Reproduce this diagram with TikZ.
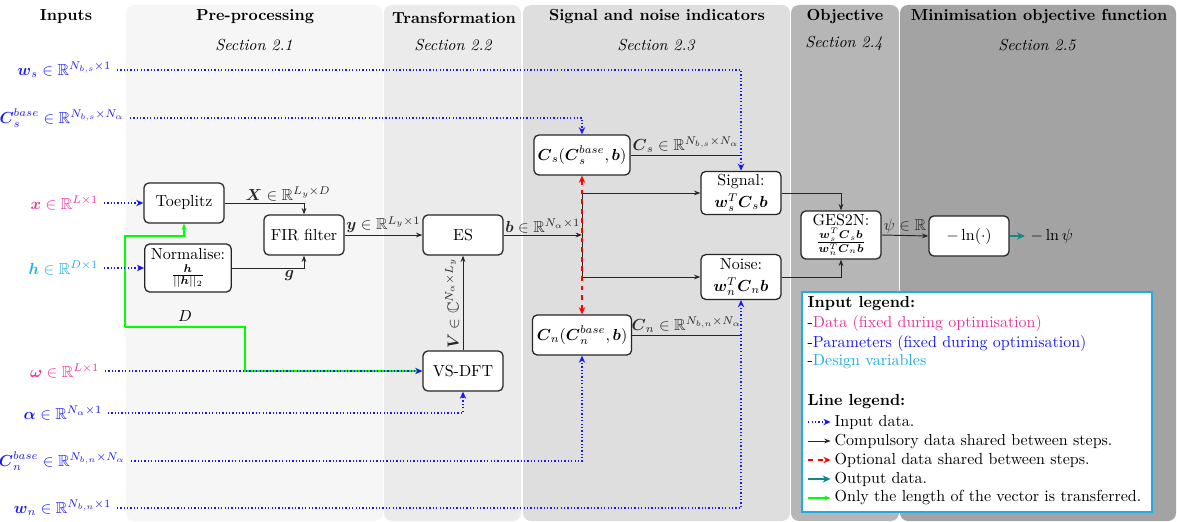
\documentclass[tikz,border=0pt]{standalone}
\usepackage{amsmath,amssymb}
\usetikzlibrary{arrows.meta}

\definecolor{datacol}{RGB}{232,52,152}
\definecolor{parcol}{RGB}{25,25,245}
\definecolor{designcol}{RGB}{30,172,230}
\definecolor{outcol}{RGB}{20,135,135}
\definecolor{lencol}{RGB}{0,255,0}
\definecolor{panelA}{RGB}{246,246,246}
\definecolor{panelB}{RGB}{235,235,235}
\definecolor{panelC}{RGB}{222,222,222}
\definecolor{panelD}{RGB}{182,182,182}
\definecolor{panelE}{RGB}{163,163,163}

\tikzset{
  procbox/.style={draw=black!85, thick, fill=white, rounded corners=3pt, align=center,
    minimum width=50pt, minimum height=25pt, inner sep=2pt},
  paneltitle/.style={font=\bfseries},
  sectitle/.style={font=\itshape},
  inputline/.style={parcol, line width=0.8pt, dash pattern=on 0.8pt off 1.3pt,
    -{Stealth[length=4.5pt,width=4pt]}},
  plainline/.style={black!85, semithick},
  compline/.style={black!85, semithick, -{Stealth[length=4pt,width=3pt]}},
  optline/.style={red, thick, dashed},
  outarrow/.style={outcol, very thick, -{Stealth[length=5pt,width=4.5pt]}},
  lenline/.style={draw=lencol, line width=0.7pt, -{Stealth[length=4pt,width=3pt]}},
  lbl/.style={inner sep=1pt},
  legendbox/.style={draw=designcol, line width=1.2pt, fill=white},
  legtext/.style={anchor=west}
}

\begin{document}
\begin{tikzpicture}[x=0.625pt,y=-0.625pt]
\useasboundingbox (0,0) rectangle (1177,522);

% stage panels
\fill[panelA, rounded corners=5pt] (126,5) rectangle (383,521);
\fill[panelB, rounded corners=5pt] (384,5) rectangle (521,521);
\fill[panelC, rounded corners=5pt] (523,5) rectangle (790,521);
\fill[panelD, rounded corners=5pt] (791,5) rectangle (899,521);
\fill[panelE, rounded corners=5pt] (900,5) rectangle (1176,521);

% panel headings
\node[paneltitle] (tIn)  at (66,17)   {Inputs};
\node[paneltitle] (tPre) at (255,17)  {Pre-processing};
\node[paneltitle] (tTr)  at (454,18)  {Transformation};
\node[paneltitle] (tSn)  at (657,17)  {Signal and noise indicators};
\node[paneltitle] (tOb)  at (845,17)  {Objective};
\node[paneltitle] (tMin) at (1039,17) {Minimisation objective function};
\node[sectitle] (sPre) at (254,45)  {Section 2.1};
\node[sectitle] (sTr)  at (453,45)  {Section 2.2};
\node[sectitle] (sSn)  at (656,45)  {Section 2.3};
\node[sectitle] (sOb)  at (844,43)  {Section 2.4};
\node[sectitle] (sMin) at (1037,45) {Section 2.5};

% inputs
\node[anchor=east, text=parcol]    (ws)  at (117,70)  {$\boldsymbol{w}_s \in \mathbb{R}^{N_{b,s}\times 1}$};
\node[anchor=east, text=parcol]    (csb) at (130,118) {$\boldsymbol{C}_s^{base} \in \mathbb{R}^{N_{b,s}\times N_\alpha}$};
\node[anchor=east, text=datacol]   (xin) at (104,203) {$\boldsymbol{x} \in \mathbb{R}^{L\times 1}$};
\node[anchor=east, text=designcol] (hin) at (104,268) {$\boldsymbol{h} \in \mathbb{R}^{D\times 1}$};
\node[anchor=east, text=datacol]   (om)  at (105,371) {$\boldsymbol{\omega} \in \mathbb{R}^{L\times 1}$};
\node[anchor=east, text=parcol]    (al)  at (108,413) {$\boldsymbol{\alpha} \in \mathbb{R}^{N_\alpha\times 1}$};
\node[anchor=east, text=parcol]    (cnb) at (131,461) {$\boldsymbol{C}_n^{base} \in \mathbb{R}^{N_{b,n}\times N_\alpha}$};
\node[anchor=east, text=parcol]    (wn)  at (117,508) {$\boldsymbol{w}_n \in \mathbb{R}^{N_{b,n}\times 1}$};

% processing steps
\node[procbox] (toep)  at (184,203) {Toeplitz};
\node[procbox, minimum width=54pt, minimum height=30pt] (norm) at (188,268)
  {Normalise:\\ $\frac{\boldsymbol{h}}{||\boldsymbol{h}||_2}$};
\node[procbox] (fir)   at (304,235) {FIR filter};
\node[procbox] (es)    at (463,235) {ES};
\node[procbox] (vsdft) at (463,371) {VS-DFT};
\node[procbox, minimum width=60pt] (cs) at (582,155)
  {$\boldsymbol{C}_s(\boldsymbol{C}_s^{base},\boldsymbol{b})$};
\node[procbox, minimum width=62pt] (cn) at (582,335)
  {$\boldsymbol{C}_n(\boldsymbol{C}_n^{base},\boldsymbol{b})$};
\node[procbox, minimum height=27pt, inner sep=1.5pt] (sig) at (741,193)
  {Signal:\\[1.5pt] $\boldsymbol{w}_s^T\boldsymbol{C}_s\boldsymbol{b}$};
\node[procbox, minimum height=28pt, inner sep=1.5pt] (noise) at (741,277)
  {Noise:\\[1.5pt] $\boldsymbol{w}_n^T\boldsymbol{C}_n\boldsymbol{b}$};
\node[procbox, minimum height=30pt, inner sep=1.5pt] (ges) at (841,235)
  {GES2N:\\[1pt] $\frac{\boldsymbol{w}_s^T\boldsymbol{C}_s\boldsymbol{b}}{\boldsymbol{w}_n^T\boldsymbol{C}_n\boldsymbol{b}}$};
\node[procbox] (lnb) at (969,236) {$-\ln(\cdot)$};
\node[anchor=west] (outv) at (1025,236) {$-\ln\psi$};

% junction of the ES output
\coordinate (jn) at (582,235);
% routing points of the length-only link
\coordinate (gA) at (125,327);
\coordinate (gT) at (125,236);
\coordinate (gB) at (245,327);

% length-only links
\draw[lenline] (gA) -- (gT) -| (toep.south);
\draw[lenline] (gA) -- (gB) |- (vsdft.west);
\node[lbl, inner sep=3pt, anchor=south] (dlab) at (185,327) {$D$};

% compulsory data
\draw[compline] (toep.east) -| node[above, lbl, pos=0.4]{$\boldsymbol{X} \in \mathbb{R}^{L_y\times D}$} (fir.north);
\draw[compline] (norm.east) -| node[below, lbl, pos=0.4]{$\boldsymbol{g}$} (fir.south);
\draw[compline] (fir.east) -- node[above, lbl]{$\boldsymbol{y} \in \mathbb{R}^{L_y\times 1}$} (es.west);
\draw[compline] (es.east) -- node[above, lbl]{$\boldsymbol{b} \in \mathbb{R}^{N_\alpha\times 1}$} (jn);
\draw[plainline] (jn |- sig.west) -- (jn |- noise.west);
\draw[compline] (jn |- sig.west) -- (sig.west);
\draw[compline] (jn |- noise.west) -- (noise.west);
\draw[compline] (vsdft.north) -- node[above, sloped, lbl, inner sep=2pt]{$\boldsymbol{V} \in \mathbb{C}^{N_\alpha\times L_y}$} (es.south);
\draw[plainline] (cs.east) -- node[above, lbl]{$\boldsymbol{C}_s \in \mathbb{R}^{N_{b,s}\times N_\alpha}$} (cs.east -| sig.north);
\draw[plainline] (cn.east) -- node[above, lbl]{$\boldsymbol{C}_n \in \mathbb{R}^{N_{b,n}\times N_\alpha}$} (cn.east -| noise.south);
\draw[compline] (sig.east) -| (ges.north);
\draw[compline] (noise.east) -| (ges.south);
\draw[compline] (ges.east) -- node[above, lbl]{$\psi \in \mathbb{R}$} (lnb.west);

% optional data
\draw[optline, {Stealth[length=4.5pt,width=4pt]}-{Stealth[length=4.5pt,width=4pt]}] (cs.south) -- (cn.north);

% output
\draw[outarrow] (lnb.east) -- (outv.west);

% input data
\draw[inputline] (ws.east) -| (sig.north);
\draw[inputline] (csb.east) -| (cs.north);
\draw[inputline] (xin.east) -- (toep.west);
\draw[inputline] (hin.east) -- (norm.west);
\draw[inputline] (om.east) -- (vsdft.west);
\draw[inputline] (al.east) -| (vsdft.south);
\draw[inputline] (cnb.east) -| (cn.south);
\draw[inputline] (wn.east) -| (noise.south);

% legend
\node[legendbox, minimum width=218.5pt, minimum height=137.5pt] (legend) at (977,402) {};
\node[legtext] (lgA) at (802,304) {\textbf{Input legend:}};
\node[legtext] (lgB) at (802,323) {-\textcolor{datacol}{Data (fixed during optimisation)}};
\node[legtext] (lgC) at (802,343) {-\textcolor{parcol}{Parameters (fixed during optimisation)}};
\node[legtext] (lgD) at (802,362) {-\textcolor{designcol}{Design variables}};
\node[legtext] (lgE) at (802,402) {\textbf{Line legend:}};
\node[legtext] (lgF) at (829,422) {Input data.};
\node[legtext] (lgG) at (829,441) {Compulsory data shared between steps.};
\node[legtext] (lgH) at (829,460) {Optional data shared between steps.};
\node[legtext] (lgI) at (829,479) {Output data.};
\node[legtext] (lgJ) at (829,498) {Only the length of the vector is transferred.};
\draw[inputline] ([xshift=-13pt]lgF.west) -- ([xshift=1pt]lgF.west);
\draw[compline]  ([xshift=-13pt]lgG.west) -- ([xshift=1pt]lgG.west);
\draw[optline, -{Stealth[length=4.5pt,width=4pt]}] ([xshift=-13pt]lgH.west) -- ([xshift=1pt]lgH.west);
\draw[outarrow]  ([xshift=-13pt]lgI.west) -- ([xshift=1pt]lgI.west);
\draw[lenline]   ([xshift=-13pt]lgJ.west) -- ([xshift=1pt]lgJ.west);

\end{tikzpicture}
\end{document}
